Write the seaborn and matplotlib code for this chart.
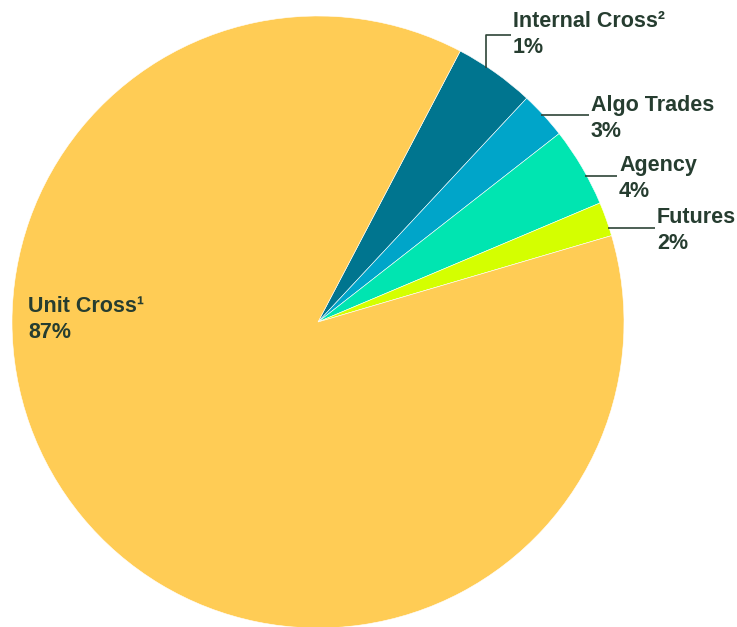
import matplotlib
matplotlib.use("Agg")
import matplotlib.pyplot as plt
import seaborn as sns

categories = ["Internal Cross²", "Algo Trades", "Agency", "Futures", "Unit Cross¹"]
shown_labels = ["1%", "3%", "4%", "2%", "87%"]
values = [4.25, 2.5, 4.2, 1.8, 87.25]
colors = ["#00758F", "#00A5C9", "#00E5B1", "#D4FF00", "#FFCC55"]

sns.set_theme(style="white")
plt.rcParams['font.family'] = ['Liberation Sans', 'DejaVu Sans']

W, H = 737, 627
fig = plt.figure(figsize=(W / 100, H / 100), dpi=100)
ax = fig.add_axes([0, 0, 1, 1])

cx, cy, r = 318, H - 322, 306
palette = sns.color_palette(colors)
ax.pie(values, colors=palette, startangle=62.3, counterclock=False,
       center=(cx, cy), radius=r, frame=True,
       wedgeprops=dict(linewidth=0.4, edgecolor="white"))
ax.set_xlim(0, W)
ax.set_ylim(0, H)
ax.set_aspect('equal')
ax.axis('off')

tc = "#263D30"
lc = "#2E4437"

def P(x, y):
    return x, H - y

lines = [
    [P(486, 68), P(486, 35), P(511, 35)],
    [P(541, 115), P(589, 115)],
    [P(585, 176), P(617, 176)],
    [P(608, 228), P(655, 228)],
]
for pts in lines:
    xs, ys = zip(*pts)
    ax.plot(xs, ys, color=lc, lw=1.2, solid_capstyle='butt')

label_pos = [(513, 11), (591, 95), (619, 155), (657, 207), (28, 296)]
for (x, y), name, pct in zip(label_pos, categories, shown_labels):
    ax.text(x, H - y, name + "\n" + pct, ha='left', va='top', fontsize=15.5,
            fontweight='bold', color=tc, linespacing=1.33)

fig.savefig("out.png", dpi=100)
